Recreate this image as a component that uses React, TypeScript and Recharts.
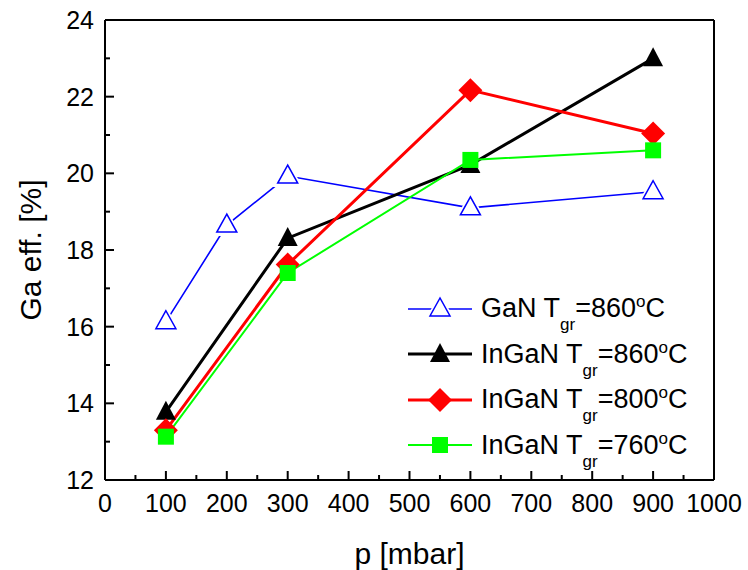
import React from 'react';
import {
  LineChart,
  Line,
  XAxis,
  YAxis,
  Legend,
  Label,
  ReferenceLine
} from 'recharts';

// pressure in mbar
const pressureGaN = [100, 200, 300, 600, 900];
const pressureInGaN = [100, 300, 600, 900];

// Ga efficiency in %
const effGaN860 = [16.13, 18.65, 19.93, 19.1, 19.52];
const effInGaN860 = [13.78, 18.31, 20.22, 23.0];
const effInGaN800 = [13.3, 17.62, 22.17, 21.04];
const effInGaN760 = [13.13, 17.4, 20.35, 20.6];

const xTicks = [0, 50, 100, 150, 200, 250, 300, 350, 400, 450, 500, 550, 600, 650, 700, 750, 800, 850, 900, 950, 1000];
const yTicks = [12, 13, 14, 15, 16, 17, 18, 19, 20, 21, 22, 23, 24];

const materials = ['GaN', 'InGaN', 'InGaN', 'InGaN'];
const growthTemps = [860, 860, 800, 760];

const FONT = '"Liberation Sans", Arial, sans-serif';

const toPoints = (p: number[], eff: number[]) => p.map((v, i) => ({ p: v, eff: eff[i] }));

type Marker = 'openTriangle' | 'triangle' | 'diamond' | 'square';

const series = [
  { key: 'gan860', data: toPoints(pressureGaN, effGaN860), color: '#0000FF', width: 1.6, marker: 'openTriangle' as Marker },
  { key: 'ingan860', data: toPoints(pressureInGaN, effInGaN860), color: '#000000', width: 3, marker: 'triangle' as Marker },
  { key: 'ingan800', data: toPoints(pressureInGaN, effInGaN800), color: '#FF0000', width: 3, marker: 'diamond' as Marker },
  { key: 'ingan760', data: toPoints(pressureInGaN, effInGaN760), color: '#00FF00', width: 2, marker: 'square' as Marker }
];

function MarkerShape({ cx, cy, marker, color }: { cx: number; cy: number; marker: Marker; color: string }) {
  if (marker === 'openTriangle') {
    return (
      <g>
        <polygon points={`${cx},${cy - 16} ${cx - 15},${cy + 11} ${cx + 15},${cy + 11}`} fill="#fff" />
        <polygon points={`${cx},${cy - 11} ${cx - 10},${cy + 7} ${cx + 10},${cy + 7}`} fill="#fff" stroke={color} strokeWidth={1.5} />
      </g>
    );
  }
  if (marker === 'triangle') {
    return <polygon points={`${cx},${cy - 11} ${cx - 10},${cy + 8} ${cx + 10},${cy + 8}`} fill={color} />;
  }
  if (marker === 'diamond') {
    return <polygon points={`${cx},${cy - 12} ${cx + 12},${cy} ${cx},${cy + 12} ${cx - 12},${cy}`} fill={color} />;
  }
  return <rect x={cx - 8} y={cy - 8} width={16} height={16} fill={color} />;
}

const makeDot = (marker: Marker, color: string) => (props: any) => {
  const { cx, cy, index } = props;
  if (cx == null || cy == null) return <g key={index} />;
  return <MarkerShape key={index} cx={cx} cy={cy} marker={marker} color={color} />;
};

function XTick({ x, y, payload }: any) {
  const major = payload.value % 100 === 0;
  return (
    <g>
      <line x1={x} x2={x} y1={y} y2={y - (major ? 9 : 5)} stroke="#000" strokeWidth={2} />
      {major && (
        <text x={x} y={y + 32} textAnchor="middle" fontSize={25} fontFamily={FONT} fill="#000">
          {payload.value}
        </text>
      )}
    </g>
  );
}

function YTick({ x, y, payload }: any) {
  const major = payload.value % 2 === 0;
  return (
    <g>
      <line x1={x} x2={x + (major ? 9 : 5)} y1={y} y2={y} stroke="#000" strokeWidth={2} />
      {major && (
        <text x={x - 11} y={y + 9} textAnchor="end" fontSize={25} fontFamily={FONT} fill="#000">
          {payload.value}
        </text>
      )}
    </g>
  );
}

function LegendIcon({ marker, color, width }: { marker: Marker; color: string; width: number }) {
  return (
    <svg width={66} height={30} style={{ display: 'block' }}>
      <line x1={1} x2={65} y1={15} y2={15} stroke={color} strokeWidth={width} />
      <MarkerShape cx={33} cy={15} marker={marker} color={color} />
    </svg>
  );
}

function renderLegend(props: any) {
  const payload: any[] = props.payload || [];
  // keep the series order, not the sorted legend order
  const rows = series.filter((s) => payload.length === 0 || payload.some((e) => e.value === s.key));
  return (
    <div style={{ fontFamily: FONT, fontSize: 27, color: '#000' }}>
      {rows.map((s) => {
        const i = series.indexOf(s);
        return (
          <div key={s.key} style={{ display: 'flex', alignItems: 'center', height: 45.5 }}>
            <LegendIcon marker={s.marker} color={s.color} width={s.width} />
            <span style={{ marginLeft: 8, whiteSpace: 'nowrap' }}>
              {materials[i]} T
              <span style={{ fontSize: 17, position: 'relative', top: 13 }}>gr</span>
              ={growthTemps[i]}
              <span style={{ fontSize: 17, position: 'relative', top: -10 }}>o</span>
              C
            </span>
          </div>
        );
      })}
    </div>
  );
}

export default function App() {
  return (
    <div style={{ position: 'absolute', left: 0, top: 0, background: '#fff' }}>
      <LineChart width={748} height={570} margin={{ top: 20, right: 34, bottom: 0, left: 0 }}>
        <XAxis
          type="number"
          dataKey="p"
          domain={[0, 1000]}
          ticks={xTicks}
          interval={0}
          tick={<XTick />}
          tickLine={false}
          tickSize={0}
          tickMargin={0}
          height={90}
          axisLine={{ stroke: '#000', strokeWidth: 2 }}
        >
          <Label value="p [mbar]" position="insideBottom" offset={6} style={{ fontSize: 30, fontFamily: FONT, fill: '#000' }} />
        </XAxis>
        <YAxis
          type="number"
          domain={[12, 24]}
          ticks={yTicks}
          interval={0}
          tick={<YTick />}
          tickLine={false}
          tickSize={0}
          tickMargin={0}
          width={105}
          axisLine={{ stroke: '#000', strokeWidth: 2 }}
        >
          <Label
            value="Ga eff. [%]"
            angle={-90}
            position="insideLeft"
            offset={30}
            style={{ fontSize: 30, fontFamily: FONT, fill: '#000', textAnchor: 'middle' }}
          />
        </YAxis>
        <ReferenceLine y={24} stroke="#000" strokeWidth={2} />
        <ReferenceLine x={1000} stroke="#000" strokeWidth={2} />
        {series.map((s) => (
          <Line
            key={s.key}
            data={s.data}
            dataKey="eff"
            name={s.key}
            stroke={s.color}
            strokeWidth={s.width}
            dot={makeDot(s.marker, s.color)}
            activeDot={false}
            isAnimationActive={false}
          />
        ))}
        <Legend
          layout="vertical"
          align="center"
          verticalAlign="middle"
          content={renderLegend}
          wrapperStyle={{ position: 'absolute', left: 407, top: 286, width: 320 }}
        />
      </LineChart>
    </div>
  );
}
